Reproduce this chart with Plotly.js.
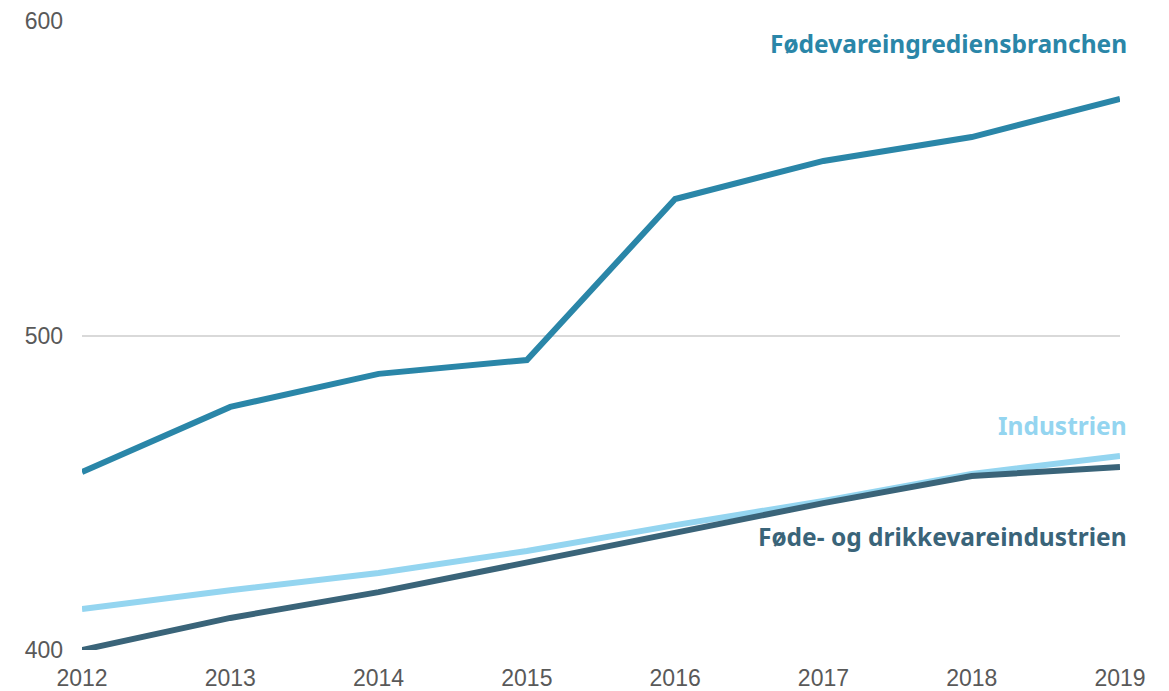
<!DOCTYPE html>
<html>
<head>
<meta charset="utf-8">
<script src="https://cdn.plot.ly/plotly-3.0.1.min.js"></script>
<style>html,body{margin:0;padding:0;background:#fff;}#chart{width:1169px;height:691px;}</style>
</head>
<body>
<div id="chart"></div>
<script>
const years = [2012, 2013, 2014, 2015, 2016, 2017, 2018, 2019];
const ingrediens = [456.6, 477.3, 487.8, 492.2, 543.4, 555.5, 563.1, 575.2];
const industrien = [413.0, 419.0, 424.5, 431.5, 439.7, 447.4, 456.0, 461.7];
const foedeDrikke = [400.0, 410.2, 418.4, 427.7, 437.2, 446.7, 455.3, 458.2];
const seriesNames = ["Fødevareingrediensbranchen", "Industrien", "Føde- og drikkevareindustrien"];
const labelY = [593, 471.5, 436];
const colors = ["#2a86a8", "#94d5f0", "#3a6479"];
const yTicks = [400, 500, 600];

const traces = [
  {x: years, y: industrien, name: seriesNames[1], color: colors[1]},
  {x: years, y: foedeDrikke, name: seriesNames[2], color: colors[2]},
  {x: years, y: ingrediens, name: seriesNames[0], color: colors[0]}
].map(s => ({
  x: s.x, y: s.y, name: s.name, type: 'scatter', mode: 'lines',
  line: {color: s.color, width: 6}, cliponaxis: false, hoverinfo: 'x+y'
}));

const annotations = seriesNames.map((n, i) => ({
  text: '<b>' + n + '</b>', xref: 'paper', x: 1.0085, xanchor: 'right',
  yref: 'y', y: labelY[i], yanchor: 'middle', showarrow: false,
  font: {family: 'Noto Sans, Open Sans, sans-serif', size: 24.5, color: colors[i]}
}));

const tickFont = {family: 'Liberation Sans, Arial, sans-serif', size: 23, color: '#595959'};

const layout = {
  width: 1169, height: 691,
  margin: {l: 82, r: 49, t: 21, b: 41},
  paper_bgcolor: '#ffffff', plot_bgcolor: '#ffffff',
  showlegend: false,
  xaxis: {
    range: [2012, 2019], tickvals: years, ticktext: years.map(String),
    showgrid: false, zeroline: false, showline: false, ticks: '',
    ticklabelstandoff: 12, tickfont: tickFont
  },
  yaxis: {
    range: [400, 600], tickvals: yTicks, ticktext: yTicks.map(String),
    showgrid: true, gridcolor: '#d9d9d9', gridwidth: 2, zeroline: false, showline: false,
    ticks: '', ticklabelstandoff: 18, tickfont: tickFont
  },
  annotations: annotations
};

Plotly.newPlot('chart', traces, layout, {displayModeBar: false, staticPlot: true});
</script>
</body>
</html>
